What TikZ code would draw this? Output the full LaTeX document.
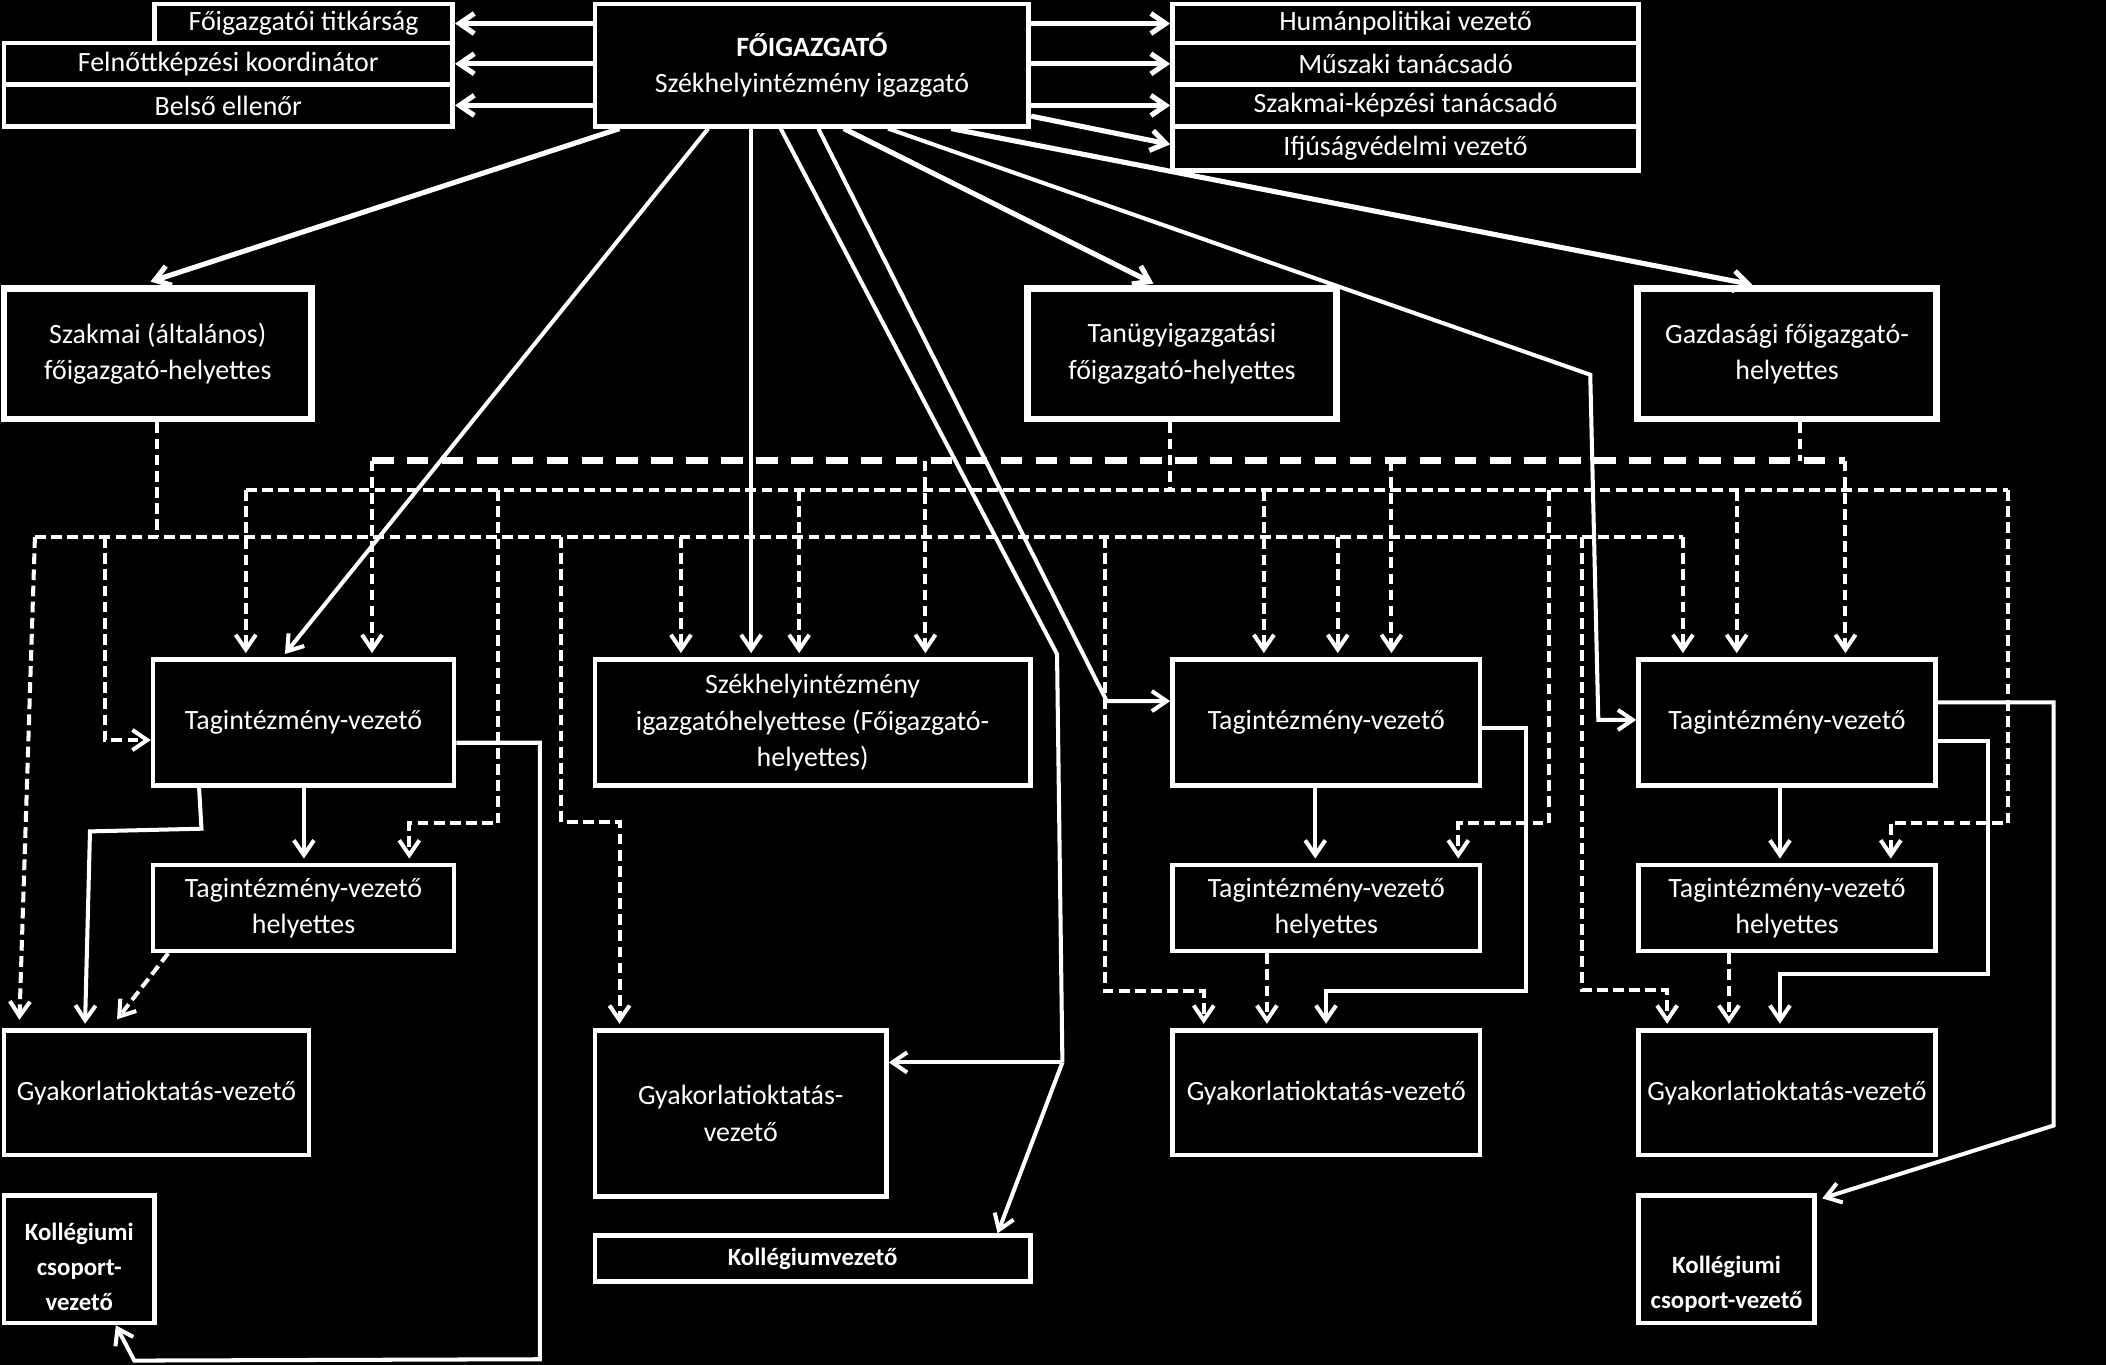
\documentclass[tikz,border=0pt]{standalone}
\usepackage{fontspec}
\setmainfont{Carlito}
\usetikzlibrary{arrows.meta,calc}
\begin{document}
\begin{tikzpicture}[x=1pt,y=-1pt,
  box/.style={draw=white,line width=3.5pt,fill=black,text=white,inner sep=0pt,align=center,font=\fontsize{20.8}{27}\selectfont},
  bigbox/.style={box,line width=5pt},
  lbl/.style={text=white,inner sep=0pt,align=center,font=\fontsize{18.5}{26}\selectfont\bfseries},
  sl/.style={draw=white,line width=3pt},
  sk/.style={draw=white,line width=3.8pt},
  dl/.style={draw=white,line width=3pt,dash pattern=on 8pt off 4pt},
  tdl/.style={draw=white,line width=5pt,dash pattern=on 16pt off 10pt},
  >={Straight Barb[length=11pt,width=15pt]},
]
\fill[black] (0,0) rectangle (1568,1016);
\useasboundingbox (0,0) rectangle (1568,1016);

% ---------- boxes ----------
\node[box,minimum width=323pt,minimum height=91pt] (main) at (604.5,48.5) {{\bfseries FŐIGAZGATÓ}\\Székhelyintézmény igazgató};
\node[box,minimum width=222pt,minimum height=29pt] (tit) at (226,17.5) {Főigazgatói titkárság};
\node[box,minimum width=334pt,minimum height=31pt] (fel) at (170,47.5) {Felnőttképzési koordinátor};
\node[box,minimum width=334pt,minimum height=31pt] (bel) at (170,78.5) {Belső ellenőr};
\node[box,minimum width=347pt,minimum height=29pt] (hum) at (1046.5,17.5) {Humánpolitikai vezető};
\node[box,minimum width=347pt,minimum height=31pt] (mus) at (1046.5,47.5) {Műszaki tanácsadó};
\node[box,minimum width=347pt,minimum height=31pt] (szk) at (1046.5,78.5) {Szakmai-képzési tanácsadó};
\node[box,minimum width=347pt,minimum height=33pt] (ifj) at (1046.5,110.5) {Ifjúságvédelmi vezető};

\node[bigbox,minimum width=229pt,minimum height=97pt] (szak) at (117.5,263.5) {Szakmai (általános)\\főigazgató-helyettes};
\node[bigbox,minimum width=230pt,minimum height=97pt] (tan) at (880,263.5) {Tanügyigazgatási\\főigazgató-helyettes};
\node[bigbox,minimum width=223pt,minimum height=97pt] (gaz) at (1330.5,263.5) {Gazdasági főigazgató-\\helyettes};

\node[box,minimum width=224pt,minimum height=94pt] (tagA) at (226,538) {Tagintézmény-vezető};
\node[box,minimum width=324pt,minimum height=94pt] (szd) at (605,538) {Székhelyintézmény\\igazgatóhelyettese (Főigazgató-\\helyettes)};
\node[box,minimum width=229pt,minimum height=94pt] (tagC) at (987.5,538) {Tagintézmény-vezető};
\node[box,minimum width=221pt,minimum height=94pt] (tagD) at (1330.5,538) {Tagintézmény-vezető};

\node[box,minimum width=224pt,minimum height=64pt] (helA) at (226,676) {Tagintézmény-vezető\\helyettes};
\node[box,minimum width=229pt,minimum height=64pt] (helC) at (987.5,676) {Tagintézmény-vezető\\helyettes};
\node[box,minimum width=221pt,minimum height=64pt] (helD) at (1330.5,676) {Tagintézmény-vezető\\helyettes};

\node[box,minimum width=227pt,minimum height=93pt] (gyA) at (116.5,813.5) {Gyakorlatioktatás-vezető};
\node[box,minimum width=217pt,minimum height=124pt] (gyB) at (551.5,829) {Gyakorlatioktatás-\\vezető};
\node[box,minimum width=229pt,minimum height=93pt] (gyC) at (987.5,813.5) {Gyakorlatioktatás-vezető};
\node[box,minimum width=221pt,minimum height=93pt] (gyD) at (1330.5,813.5) {Gyakorlatioktatás-vezető};

\node[box,minimum width=112pt,minimum height=95pt] (kolA) at (59,937.5) {};
\node[lbl] (kolAt) at (59,943) {Kollégiumi\\csoport-\\vezető};
\node[box,minimum width=324pt,minimum height=34pt,font=\fontsize{18.5}{26}\selectfont\bfseries] (kolv) at (605,937) {Kollégiumvezető};
\node[box,minimum width=131pt,minimum height=95pt] (kolD) at (1285.5,937.5) {};
\node[lbl] (kolDt) at (1285.5,956) {Kollégiumi\\csoport-vezető};

% ---------- solid connectors from the director ----------
\draw[sk,->] (main.west |- tit.east) -- (tit.east);
\draw[sk,->] (main.west |- fel.east) -- (fel.east);
\draw[sk,->] (main.west |- bel.east) -- (bel.east);
\draw[sk,->] (main.east |- hum.west) -- (hum.west);
\draw[sk,->] (main.east |- mus.west) -- (mus.west);
\draw[sk,->] (main.east |- szk.west) -- (szk.west);
\draw[sk,->] ([yshift=-38pt]main.east) -- ([yshift=3pt]ifj.west);

\draw[sk,->,shorten >=9pt] ([xshift=20pt]main.south west) -- ([xshift=103pt]szak.north west);
\draw[sl,->,shorten >=3pt] ([xshift=86pt]main.south west) -- ([xshift=98pt]tagA.north west);
\draw[sl,->,shorten >=3pt] ([xshift=118pt]main.south west) -- ([xshift=118pt]szd.north west);

\coordinate (e1) at (787,487);
\coordinate (e2) at (791,791);
\draw[sl] ([xshift=140pt]main.south west) -- (e1) -- (e2);
\draw[sl,->] (e2) -- (gyB.east |- e2);
\draw[sl,->] (e2) -- ([xshift=-26pt]kolv.north east);

\coordinate (f1) at (824,522);
\draw[sl,->] ([xshift=168pt]main.south west) -- (f1) -- (tagC.west |- f1);

\draw[sk,->,shorten >=3pt] ([xshift=187pt]main.south west) -- ([xshift=99pt]tan.north west);

\coordinate (g1) at (1184,279);
\coordinate (g2) at (1190,536);
\draw[sl,->] ([xshift=220pt]main.south west) -- (g1) -- (g2) -- (tagD.west |- g2);

\draw[sk,->,shorten >=3pt] ([xshift=267pt]main.south west) -- ([xshift=91pt]gaz.north west);

% ---------- dashed network ----------
\coordinate (tl0) at (277,343);
\coordinate (tl1) at (689,343);
\coordinate (tl2) at (1036,343);
\coordinate (tl3) at (1374,343);
\coordinate (tlg) at (1340,343);
\coordinate (ml0) at (183,365);
\coordinate (ml1) at (371,365);
\coordinate (ml2) at (595,365);
\coordinate (ml3) at (871,365);
\coordinate (ml4) at (941,365);
\coordinate (ml5) at (1153,365);
\coordinate (ml6) at (1293,365);
\coordinate (ml7) at (1495,365);
\coordinate (bl0) at (26,400);
\coordinate (bl1) at (78,400);
\coordinate (bl2) at (117,400);
\coordinate (bl3) at (418,400);
\coordinate (bl4) at (507,400);
\coordinate (bl5) at (823,400);
\coordinate (bl6) at (996,400);
\coordinate (bl7) at (1178,400);
\coordinate (bl8) at (1253,400);
\coordinate (b3c) at (418,612);
\coordinate (b5c) at (823,738);
\coordinate (b7c) at (1178,737);
\coordinate (m1c) at (371,613);
\coordinate (m5c) at (1153,613);
\coordinate (m7c) at (1495,613);

\draw[tdl] (tl0) -- (tl3);
\draw[dl] (gaz.south -| tlg) -- (tlg);
\draw[dl] (tan.south -| ml3) -- (ml3);
\draw[dl] (szak.south -| bl2) -- (bl2);
\draw[dl] (ml0) -- (ml7);
\draw[dl] (bl0) -- (bl8);

\foreach \c/\n in {tl0/tagA, tl1/szd, tl2/tagC, tl3/tagD, ml0/tagA, ml2/szd, ml4/tagC, ml6/tagD, bl4/szd, bl6/tagC, bl8/tagD}
  \draw[dl,->,shorten >=3pt] (\c) -- (\n.north -| \c);

\draw[dl,->,shorten >=6pt] (bl0) -- ([xshift=13pt]gyA.north west);
\draw[dl,->] (bl1) |- ([yshift=-13pt]tagA.west);
\draw[dl,->,shorten >=3pt] (bl3) -- (b3c) -| ([xshift=20pt]gyB.north west);
\draw[dl,->,shorten >=3pt] (bl5) -- (b5c) -| ([xshift=25pt]gyC.north west);
\draw[dl,->,shorten >=3pt] (bl7) -- (b7c) -| ([xshift=23pt]gyD.north west);
\draw[dl,->,shorten >=3pt] (ml1) -- (m1c) -| ([xshift=-35pt]helA.north east);
\draw[dl,->,shorten >=3pt] (ml5) -- (m5c) -| ([xshift=-18pt]helC.north east);
\draw[dl,->,shorten >=3pt] (ml7) -- (m7c) -| ([xshift=-35pt]helD.north east);

\draw[dl,->,shorten >=8pt] ([xshift=13pt]helA.south west) -- ([xshift=81pt]gyA.north west);
\draw[dl,->,shorten >=3pt] ([xshift=72pt]helC.south west) -- ([xshift=72pt]gyC.north west);
\draw[dl,->,shorten >=3pt] ([xshift=69pt]helD.south west) -- ([xshift=69pt]gyD.north west);

% ---------- solid connectors, lower part ----------
\coordinate (a1) at (150,617);
\coordinate (a2) at (67,619);
\coordinate (a3) at (402,553);
\coordinate (a4) at (402,1012);
\coordinate (a5) at (100,1013);
\draw[sl,->,shorten >=3pt] ([xshift=114pt]tagA.south west) -- ([xshift=114pt]helA.north west);
\draw[sl,->,shorten >=3pt] ([xshift=36pt]tagA.south west) -- (a1) -- (a2) -- ([xshift=62pt]gyA.north west);
\draw[sl,->] ([yshift=-15pt]tagA.east) -- (a3) -- (a4) -- (a5) -- ([xshift=85pt]kolA.south west);

\coordinate (c1) at (1136,542);
\coordinate (c2) at (1136,738);
\draw[sl,->,shorten >=3pt] ([xshift=108pt]tagC.south west) -- ([xshift=108pt]helC.north west);
\draw[sl,->,shorten >=3pt] ([yshift=-4pt]tagC.east) -- (c1) -- (c2) -| ([xshift=116pt]gyC.north west);

\coordinate (d1) at (1480,552);
\coordinate (d2) at (1480,725);
\coordinate (d3) at (1529,523);
\coordinate (d4) at (1529,838);
\draw[sl,->,shorten >=3pt] ([xshift=107pt]tagD.south west) -- ([xshift=107pt]helD.north west);
\draw[sl,->,shorten >=3pt] ([yshift=-14pt]tagD.east) -- (d1) -- (d2) -| ([xshift=107pt]gyD.north west);
\draw[sl,->] ([yshift=15pt]tagD.east) -- (d3) -- (d4) -- ([xshift=4pt,yshift=-4pt]kolD.north east);
\end{tikzpicture}
\end{document}
